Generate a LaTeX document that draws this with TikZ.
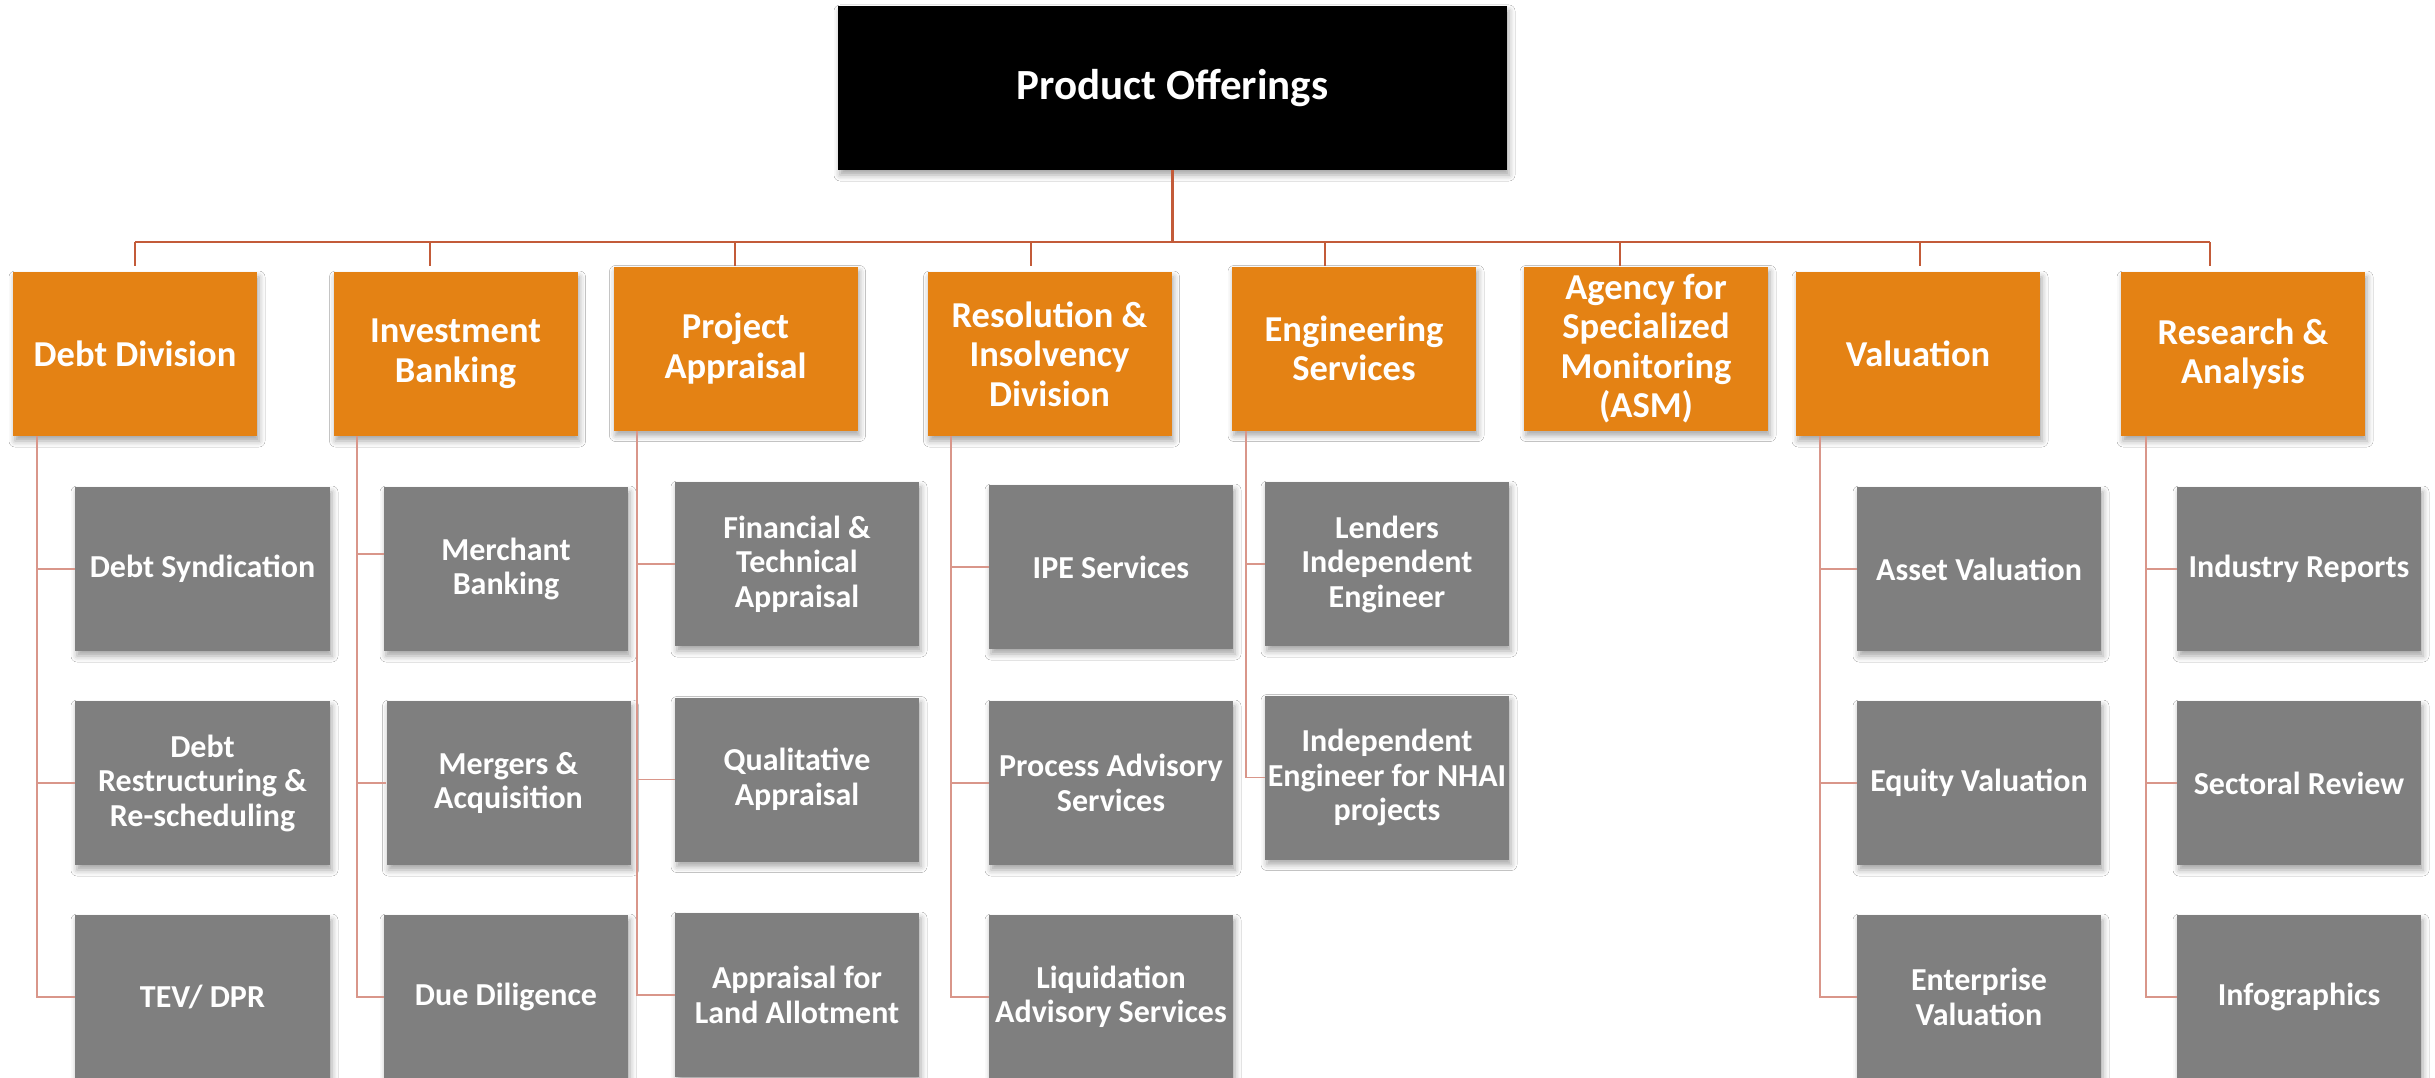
\documentclass[tikz,border=0pt]{standalone}
\usepackage{fontspec}
\setmainfont{Carlito}
\usetikzlibrary{shadows.blur}
\definecolor{orangeC}{HTML}{E48214}
\definecolor{greyC}{HTML}{7F7F7F}
\definecolor{busC}{HTML}{C35B39}
\definecolor{subC}{HTML}{D9968A}
\tikzset{
  shad/.style={blur shadow={shadow xshift=2pt, shadow yshift=-5pt, shadow blur radius=6pt, shadow opacity=35}},
  topbox/.style={shad, fill=black, text=white, minimum width=669pt, minimum height=164pt, inner sep=0pt,
    font=\fontsize{43}{50}\selectfont\bfseries},
  orbox/.style={shad, fill=orangeC, text=white, minimum width=244pt, minimum height=164pt, inner sep=0pt,
    align=center, font=\fontsize{36.5}{39.6}\selectfont\bfseries},
  grbox/.style={shad, fill=greyC, text=white, minimum width=244pt, minimum height=164pt, inner sep=0pt,
    align=center, font=\fontsize{32}{34.5}\selectfont\bfseries},
  mainln/.style={draw=busC, line width=2.2pt},
  subln/.style={draw=subC, line width=1.8pt},
}
\begin{document}
\begin{tikzpicture}[x=1pt,y=-1pt]
\useasboundingbox (0,0) rectangle (2435,1078);
\fill[white] (0,0) rectangle (2435,1078);

\coordinate (bus) at (1172.5,242);
\coordinate (j1) at (135,242);
\coordinate (j2) at (430,242);
\coordinate (j3) at (735,242);
\coordinate (j4) at (1031,242);
\coordinate (j5) at (1325,242);
\coordinate (j6) at (1620,242);
\coordinate (j7) at (1920,242);
\coordinate (j8) at (2210,242);

% top
\node[topbox] (top) at (1172.5,88) {Product Offerings};

% divisions
\node[orbox] (d1) at (135,354) {Debt Division};
\node[orbox] (d2) at (455.5,354) {Investment\\Banking};
\node[orbox] (d3) at (735.5,348.5) {Project\\Appraisal};
\node[orbox] (d4) at (1049.5,354) {Resolution \&\\Insolvency\\Division};
\node[orbox] (d5) at (1354,348.5) {Engineering\\Services};
\node[orbox] (d6) at (1646,348.5) {Agency for\\Specialized\\Monitoring\\(ASM)};
\node[orbox] (d7) at (1918,354) {Valuation};
\node[orbox] (d8) at (2243,354) {Research \&\\Analysis};

% services
\node[grbox, minimum width=255pt] (g11) at (202.5,569) {Debt Syndication};
\node[grbox, minimum width=255pt] (g12) at (202.5,783) {Debt\\Restructuring \&\\Re-scheduling};
\node[grbox, minimum width=255pt] (g13) at (202.5,997) {TEV/ DPR};

\node[grbox] (g21) at (506,569) {Merchant\\Banking};
\node[grbox] (g22) at (508.5,783) {Mergers \&\\Acquisition};
\node[grbox] (g23) at (506,997) {Due Diligence};

\node[grbox] (g31) at (797,564) {Financial \&\\Technical\\Appraisal};
\node[grbox] (g32) at (797,779.5) {Qualitative\\Appraisal};
\node[grbox] (g33) at (797,995) {Appraisal for\\Land Allotment};

\node[grbox] (g41) at (1111,567) {IPE Services};
\node[grbox] (g42) at (1111,783) {Process Advisory\\Services};
\node[grbox] (g43) at (1111,997) {Liquidation\\Advisory Services};

\node[grbox] (g51) at (1387,564) {Lenders\\Independent\\Engineer};
\node[grbox] (g52) at (1387,777.5) {Independent\\Engineer for NHAI\\projects};

\node[grbox] (g71) at (1979,569) {Asset Valuation};
\node[grbox] (g72) at (1979,783) {Equity Valuation};
\node[grbox] (g73) at (1979,997) {Enterprise\\Valuation};

\node[grbox] (g81) at (2299,569) {Industry Reports};
\node[grbox] (g82) at (2299,783) {Sectoral Review};
\node[grbox] (g83) at (2299,997) {Infographics};

% top level connectors
\draw[mainln] (top.south) -- (bus);
\draw[mainln] (j1) -- (j8);
\draw[mainln] (j1) -- (j1 |- d3.north);
\draw[mainln] (j2) -- (j2 |- d3.north);
\draw[mainln] (j3) -- (j3 |- d3.north);
\draw[mainln] (j4) -- (j4 |- d3.north);
\draw[mainln] (j5) -- (j5 |- d5.north);
\draw[mainln] (j6) -- (j6 |- d6.north);
\draw[mainln] (j7) -- (j7 |- d3.north);
\draw[mainln] (j8) -- (j8 |- d3.north);

% spines
\coordinate (s1) at ([xshift=24pt]d1.south west);
\coordinate (s2) at ([xshift=24pt]d2.south west);
\coordinate (s3) at ([xshift=24pt]d3.south west);
\coordinate (s4) at ([xshift=24pt]d4.south west);
\coordinate (s5) at ([xshift=14pt]d5.south west);
\coordinate (s7) at ([xshift=24pt]d7.south west);
\coordinate (s8) at ([xshift=25pt]d8.south west);

\foreach \c in {1,2,3} {
  \draw[subln] (s1) |- (g1\c.west);
  \draw[subln] (s3) |- (g3\c.west);
  \draw[subln] (s4) |- (g4\c.west);
  \draw[subln] (s7) |- (g7\c.west);
  \draw[subln] (s8) |- (g8\c.west);
}
\draw[subln] (s2) |- ([yshift=15pt]g21.west);
\draw[subln] (s2) |- (g22.west);
\draw[subln] (s2) |- (g23.west);
\draw[subln] (s5) |- (g51.west);
\draw[subln] (s5) |- (g52.west);
\end{tikzpicture}
\end{document}
